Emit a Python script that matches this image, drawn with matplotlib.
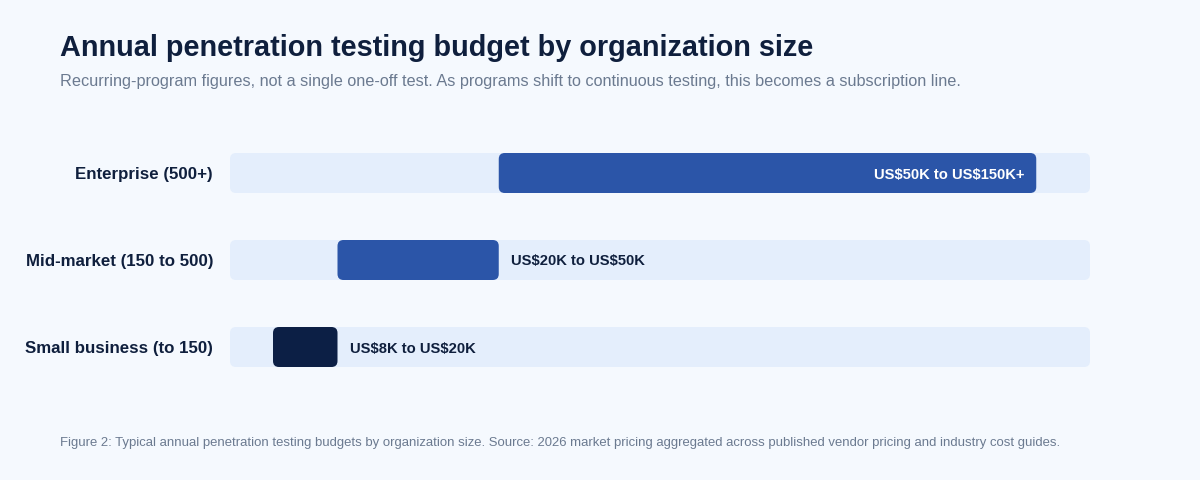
import matplotlib.pyplot as plt
from matplotlib.patches import FancyBboxPatch

plt.rcParams['font.family'] = ['Liberation Sans', 'DejaVu Sans']
plt.rcParams['text.parse_math'] = False

# data (thousands of US$)
categories = ["Small business (to 150)", "Mid-market (150 to 500)", "Enterprise (500+)"]
low = [8, 20, 50]
high = [20, 50, 150]
range_labels = ["US$8K to US$20K", "US$20K to US$50K", "US$50K to US$150K+"]
axis_max = 160

BG = "#F5F9FE"
TRACK = "#E4EEFC"
BLUE = "#2B55A8"
DARK = "#0C1F45"
TEXT = "#0F1F3D"
GREY = "#6B7A90"

W, H = 1200, 480
fig = plt.figure(figsize=(12, 4.8), dpi=100, facecolor=BG)

# axes spans the rows: x 230..1090 px, y 153..367 px
bar_h = 40 / 87
pad = bar_h / 2
ax = fig.add_axes([230 / W, (H - 367) / H, 860 / W, 214 / H])
ax.set_facecolor(BG)
ax.set_xlim(0, axis_max)
ax.set_ylim(-pad, len(categories) - 1 + pad)
ax.axis("off")

# rounding corrections
px_x = axis_max / 860
px_y = (len(categories) - 1 + 2 * pad) / 214
r = 6 * px_x
aspect = px_y / px_x


def rbar(x0, x1, y, color):
    p = FancyBboxPatch((x0, y - bar_h / 2), x1 - x0, bar_h,
                       boxstyle=f"round,pad=0,rounding_size={r}",
                       mutation_aspect=aspect, facecolor=color,
                       edgecolor="none", clip_on=False)
    ax.add_patch(p)


for i, cat in enumerate(categories):
    rbar(0, axis_max, i, TRACK)
    color = DARK if i == 0 else BLUE
    rbar(low[i], high[i], i, color)
    if high[i] > axis_max * 0.8:
        ax.text(high[i] - 12 * px_x, i, range_labels[i], ha="right", va="center_baseline",
                color="white", fontsize=10.6, fontweight="bold")
    else:
        ax.text(high[i] + 12 * px_x, i, range_labels[i], ha="left", va="center_baseline",
                color=TEXT, fontsize=10.6, fontweight="bold")
    ax.text(-17 * px_x, i, cat, ha="right", va="center_baseline",
            color=TEXT, fontsize=12.2, fontweight="bold")

fig.text(60 / W, 1 - 56 / H, "Annual penetration testing budget by organization size",
         fontsize=20.8, fontweight="bold", color=TEXT, va="baseline")
fig.text(60 / W, 1 - 86 / H,
         "Recurring-program figures, not a single one-off test. As programs shift to continuous testing, this becomes a subscription line.",
         fontsize=11.68, color=GREY, va="baseline")
fig.text(60 / W, 1 - 446 / H,
         "Figure 2: Typical annual penetration testing budgets by organization size. Source: 2026 market pricing aggregated across published vendor pricing and industry cost guides.",
         fontsize=9.45, color=GREY, va="baseline")

fig.savefig("out.png", dpi=100, facecolor=BG)
